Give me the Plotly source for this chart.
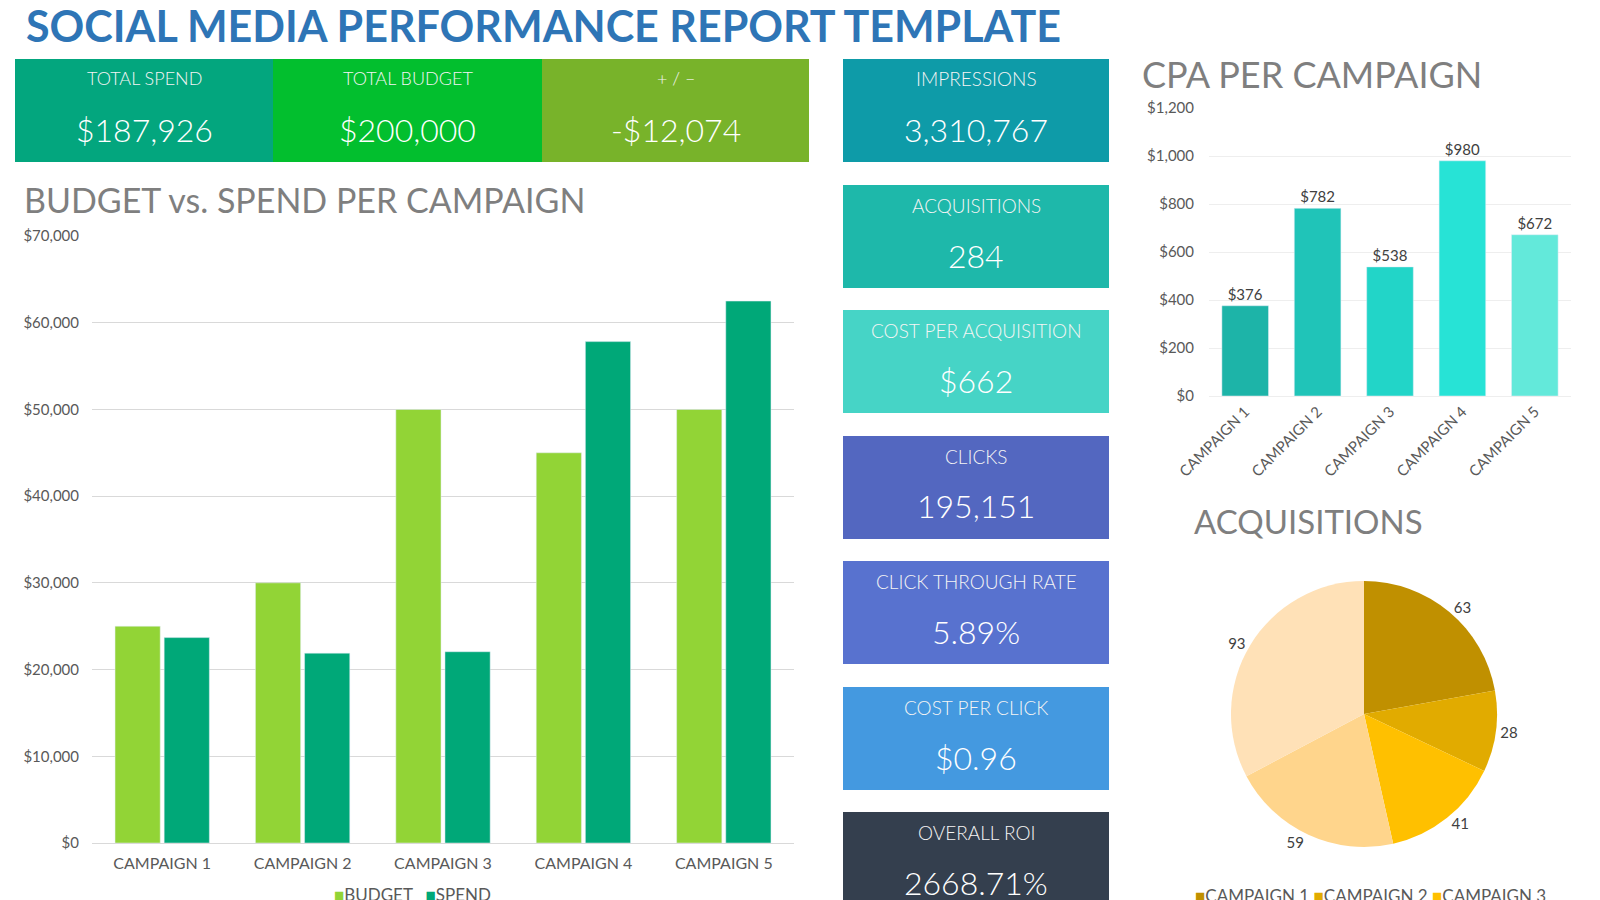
import plotly.graph_objects as go

# ---------------- data ----------------
campaigns = ["CAMPAIGN 1", "CAMPAIGN 2", "CAMPAIGN 3", "CAMPAIGN 4", "CAMPAIGN 5"]
budget = [25000, 30000, 50000, 45000, 50000]
spend = [23688, 21896, 22058, 57820, 62496]
cpa = [376, 782, 538, 980, 672]
acquisitions = [63, 28, 41, 59, 93]

top_labels = ["TOTAL SPEND", "TOTAL BUDGET", "+ / \u2013"]
top_values = ["$187,926", "$200,000", "-$12,074"]
side_labels = ["IMPRESSIONS", "ACQUISITIONS", "COST PER ACQUISITION", "CLICKS",
               "CLICK THROUGH RATE", "COST PER CLICK", "OVERALL ROI"]
side_values = ["3,310,767", "284", "$662", "195,151", "5.89%", "$0.96", "2668.71%"]

# ---------------- styles ----------------
OFF = 8                      # page body margin of the html page
FW, FH = 1600 - OFF, 900 - OFF
FONT = "Lato"
top_colors = ["#03A67E", "#02BF2E", "#78B32A"]
side_colors = ["#0E9BA8", "#1EB8AA", "#46D4C6", "#5367C0", "#5872CF", "#4499E0", "#343F4E"]
bar_colors = ["#92D436", "#00A878"]
cpa_colors = ["#1DB4A8", "#20C4B8", "#22D5C8", "#27E3D6", "#63E9DA"]
pie_colors = ["#C09000", "#E1AB00", "#FFC000", "#FFD58C", "#FFE1B7"]
GRAY = "#595959"


def px(x):
    return (x - OFF) / FW


def py(y):
    return 1 - (y - OFF) / FH


fig = go.Figure()

# Budget vs spend bars
fig.add_trace(go.Bar(x=campaigns, y=budget, name="BUDGET", marker_color=bar_colors[0],
                     xaxis="x", yaxis="y", showlegend=False))
fig.add_trace(go.Bar(x=campaigns, y=spend, name="SPEND", marker_color=bar_colors[1],
                     xaxis="x", yaxis="y", showlegend=False))

# CPA bars
fig.add_trace(go.Bar(x=campaigns, y=cpa, marker_color=cpa_colors, showlegend=False, name="CPA",
                     texttemplate="$%{y:,.0f}", textposition="outside", cliponaxis=False,
                     textfont=dict(size=15, color="#404040", family=FONT),
                     xaxis="x2", yaxis="y2"))

# Pie
cx, cy, r = 1364, 714, 133
fig.add_trace(go.Pie(labels=campaigns, values=acquisitions, sort=False, direction="clockwise",
                     rotation=0, marker=dict(colors=pie_colors), textinfo="value",
                     textposition="outside", textfont=dict(size=15, color="#404040", family=FONT),
                     domain=dict(x=[px(cx - r), px(cx + r)], y=[py(cy + r), py(cy - r)]),
                     showlegend=False, hoverinfo="label+value"))

shapes = []
annotations = []


def text(x, y, s, size, color, xanchor="center", weight=None):
    f = dict(size=size, color=color, family=FONT)
    if weight:
        f["weight"] = weight
    annotations.append(dict(xref="paper", yref="paper", x=px(x), y=py(y), text=s,
                            xanchor=xanchor, yanchor="middle", showarrow=False, font=f))


# top KPI row
top_x = [15, 273, 542, 809]
for i in range(3):
    x0, x1 = top_x[i], top_x[i + 1]
    shapes.append(dict(type="rect", xref="paper", yref="paper", x0=px(x0), x1=px(x1),
                       y0=py(162), y1=py(59), fillcolor=top_colors[i], line_width=0, layer="below"))
    text((x0 + x1) / 2, 78, top_labels[i], 18, "#F4F4F4", weight=300)
    text((x0 + x1) / 2, 129, top_values[i], 32, "white", weight=300)

# side KPI column
side_tops = [59, 185, 310, 436, 561, 687, 812]
for i, t in enumerate(side_tops):
    shapes.append(dict(type="rect", xref="paper", yref="paper", x0=px(843), x1=px(1109),
                       y0=py(t + 103), y1=py(t), fillcolor=side_colors[i], line_width=0, layer="below"))
    text(976, t + 20, side_labels[i], 19, "#F4F4F4", weight=300)
    text(976, t + 70, side_values[i], 32, "white", weight=300)

# titles
text(24, 26, "<b>SOCIAL MEDIA PERFORMANCE REPORT TEMPLATE</b>", 43, "#2E75B6", xanchor="left")
text(22, 199, "BUDGET vs. SPEND PER CAMPAIGN", 34, "#7F7F7F", xanchor="left")
text(1140, 74, "CPA PER CAMPAIGN", 36, "#7F7F7F", xanchor="left")
text(1192, 521, "ACQUISITIONS", 33, "#7F7F7F", xanchor="left")


def sq(c):
    return "<span style='color:%s'>\u25A0</span>" % c


# legends
text(412, 894, sq(bar_colors[0]) + "BUDGET   " + sq(bar_colors[1]) + "SPEND", 17, GRAY)
row1 = " ".join(sq(pie_colors[i]) + campaigns[i] for i in range(3))
row2 = " ".join(sq(pie_colors[i]) + campaigns[i] for i in range(3, 5))
annotations.append(dict(xref="paper", yref="paper", x=px(1193), y=py(883), xanchor="left",
                        yanchor="top", align="left", showarrow=False, text=row1 + "<br>" + row2,
                        font=dict(size=17, color=GRAY, family=FONT)))

tickfont = dict(size=15, color=GRAY, family=FONT)

fig.update_layout(
    width=FW, height=FH, margin=dict(l=0, r=0, t=0, b=0, autoexpand=False),
    paper_bgcolor="white", plot_bgcolor="white",
    font=dict(family=FONT),
    barmode="group", bargap=0.3, bargroupgap=0.08,
    shapes=shapes, annotations=annotations,
    xaxis=dict(domain=[px(92), px(794)], anchor="y", tickfont=dict(size=16, color=GRAY, family=FONT),
               showgrid=False, showline=True, linecolor="#D9D9D9", ticks="", ticklabelstandoff=6),
    yaxis=dict(domain=[py(843), py(236)], anchor="x", range=[0, 70000], dtick=10000,
               tickformat="$,.0f", tickfont=tickfont, gridcolor="#D9D9D9", zeroline=False,
               ticks="", ticklabelstandoff=12),
    xaxis2=dict(domain=[px(1209), px(1571)], anchor="y2", tickfont=tickfont, showgrid=False,
                tickangle=-45, showline=True, linecolor="#EEEEEE", ticks=""),
    yaxis2=dict(domain=[py(396), py(108)], anchor="x2", range=[0, 1200], dtick=200,
                tickformat="$,.0f", tickfont=dict(size=15, color=GRAY, family=FONT),
                gridcolor="#EEEEEE", zeroline=False, ticks="", ticklabelstandoff=14),
)

fig.write_html("out.html")
